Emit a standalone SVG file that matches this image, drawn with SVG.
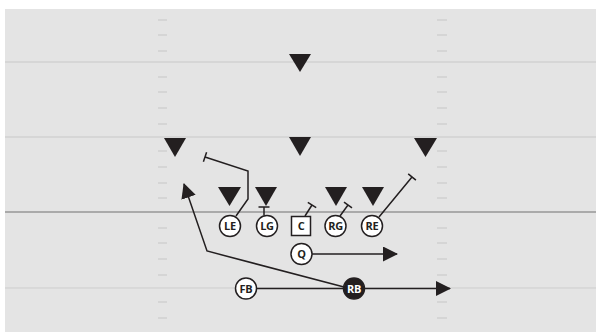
<svg xmlns="http://www.w3.org/2000/svg" width="596" height="332" viewBox="0 0 596 332">
<style>
.field{fill:#e4e4e4}
.yl{stroke:#d6d6d6;stroke-width:2}
.los{stroke:#707070;stroke-width:1}
.hash{stroke:#cfcfcf;stroke-width:1.5}
.def{fill:#231f20}
.off{fill:#ffffff;stroke:#231f20;stroke-width:1.5}
.rb{fill:#231f20;stroke:#231f20;stroke-width:1.5}
.lbl{font-family:"Open Sans","Noto Sans",sans-serif;font-weight:700;font-size:11px;text-anchor:middle;fill:#231f20;letter-spacing:-0.3px}
.lblw{fill:#ffffff}
.route{fill:none;stroke:#231f20;stroke-width:1.5}
</style>
<defs>
<marker id="arr" markerUnits="userSpaceOnUse" viewBox="0 0 15 15" markerWidth="15" markerHeight="15" refX="14" refY="7.5" orient="auto">
<path d="M0,0 L15,7.5 L0,15 Z" fill="#231f20"/>
</marker>
</defs>
<rect class="field" x="5" y="9" width="591" height="323"/>
<g id="field-lines">
<line class="yl" x1="5" y1="62" x2="596" y2="62"/>
<line class="yl" x1="5" y1="137" x2="596" y2="137"/>
<line class="los" x1="5" y1="212" x2="596" y2="212"/>
<line class="yl" x1="5" y1="288" x2="596" y2="288" style="stroke-width:1;stroke:#cdcdcd"/>
<path class="hash" d="M158,20h9M158,35h9M158,51h9M158,77h9M158,92h9M158,108h9M158,124h9M158,151h9M158,167h9M158,183h9M158,198h9M158,228h9M158,243h9M158,259h9M158,275h9M158,302h9M158,318h9"/>
<path class="hash" d="M437,20h10M437,35h10M437,51h10M437,77h10M437,92h10M437,108h10M437,124h10M437,151h10M437,167h10M437,183h10M437,198h10M437,228h10M437,243h10M437,259h10M437,275h10M437,302h10M437,318h10"/>
</g>
<g id="defense">
<polygon id="d1" class="def" points="289,54 311,54 300,72"/>
<polygon id="d2" class="def" points="164,138 186,138 175,157"/>
<polygon id="d3" class="def" points="289,137 311,137 300,156"/>
<polygon id="d4" class="def" points="414,138 437,138 425.5,157"/>
<polygon id="d5" class="def" points="218,187 241,187 229.5,206"/>
<polygon id="d6" class="def" points="255,187 277,187 266,206"/>
<polygon id="d7" class="def" points="325,187 347,187 336,206"/>
<polygon id="d8" class="def" points="362,187 384,187 373,206"/>
</g>
<g id="connectors">
<path class="route" d="M236,216 L248,199 L248,171 L205,157"/>
<path class="route" d="M203.4,161.8 L206.6,152.2"/>
<path class="route" d="M264,215.5 L264,207 M258.5,207 L269.5,207"/>
<path class="route" d="M305,216 L312,205 M307.8,202.3 L316.2,207.7"/>
<path class="route" d="M340,216 L348,205 M344,202.1 L352,207.9"/>
<path class="route" d="M379,217 L412,177 M408.2,173.8 L415.9,180.2"/>
<path class="route" d="M312,254 L397,254" marker-end="url(#arr)"/>
<path class="route" d="M257,288.5 L450,288.5" marker-end="url(#arr)"/>
<path class="route" d="M344,287 L207,251 L184,184" marker-end="url(#arr)"/>
</g>
<g id="LE"><circle class="off" cx="230" cy="226" r="10.5"/><text class="lbl" x="230" y="230">LE</text></g>
<g id="LG"><circle class="off" cx="267" cy="226" r="10.5"/><text class="lbl" x="267" y="230">LG</text></g>
<g id="C"><rect class="off" x="291.5" y="216.5" width="19" height="19"/><text class="lbl" x="301" y="230">C</text></g>
<g id="RG"><circle class="off" cx="335.5" cy="226" r="10.5"/><text class="lbl" x="335.5" y="230">RG</text></g>
<g id="RE"><circle class="off" cx="372" cy="226" r="10.5"/><text class="lbl" x="372" y="230">RE</text></g>
<g id="Q"><circle class="off" cx="301.5" cy="254" r="10.5"/><text class="lbl" x="301.5" y="258">Q</text></g>
<g id="FB"><circle class="off" cx="246" cy="288.5" r="10.5"/><text class="lbl" x="246" y="292.5">FB</text></g>
<g id="RB"><circle class="rb" cx="354" cy="288.5" r="10.5"/><text class="lbl lblw" x="354" y="292.5">RB</text></g>
</svg>
